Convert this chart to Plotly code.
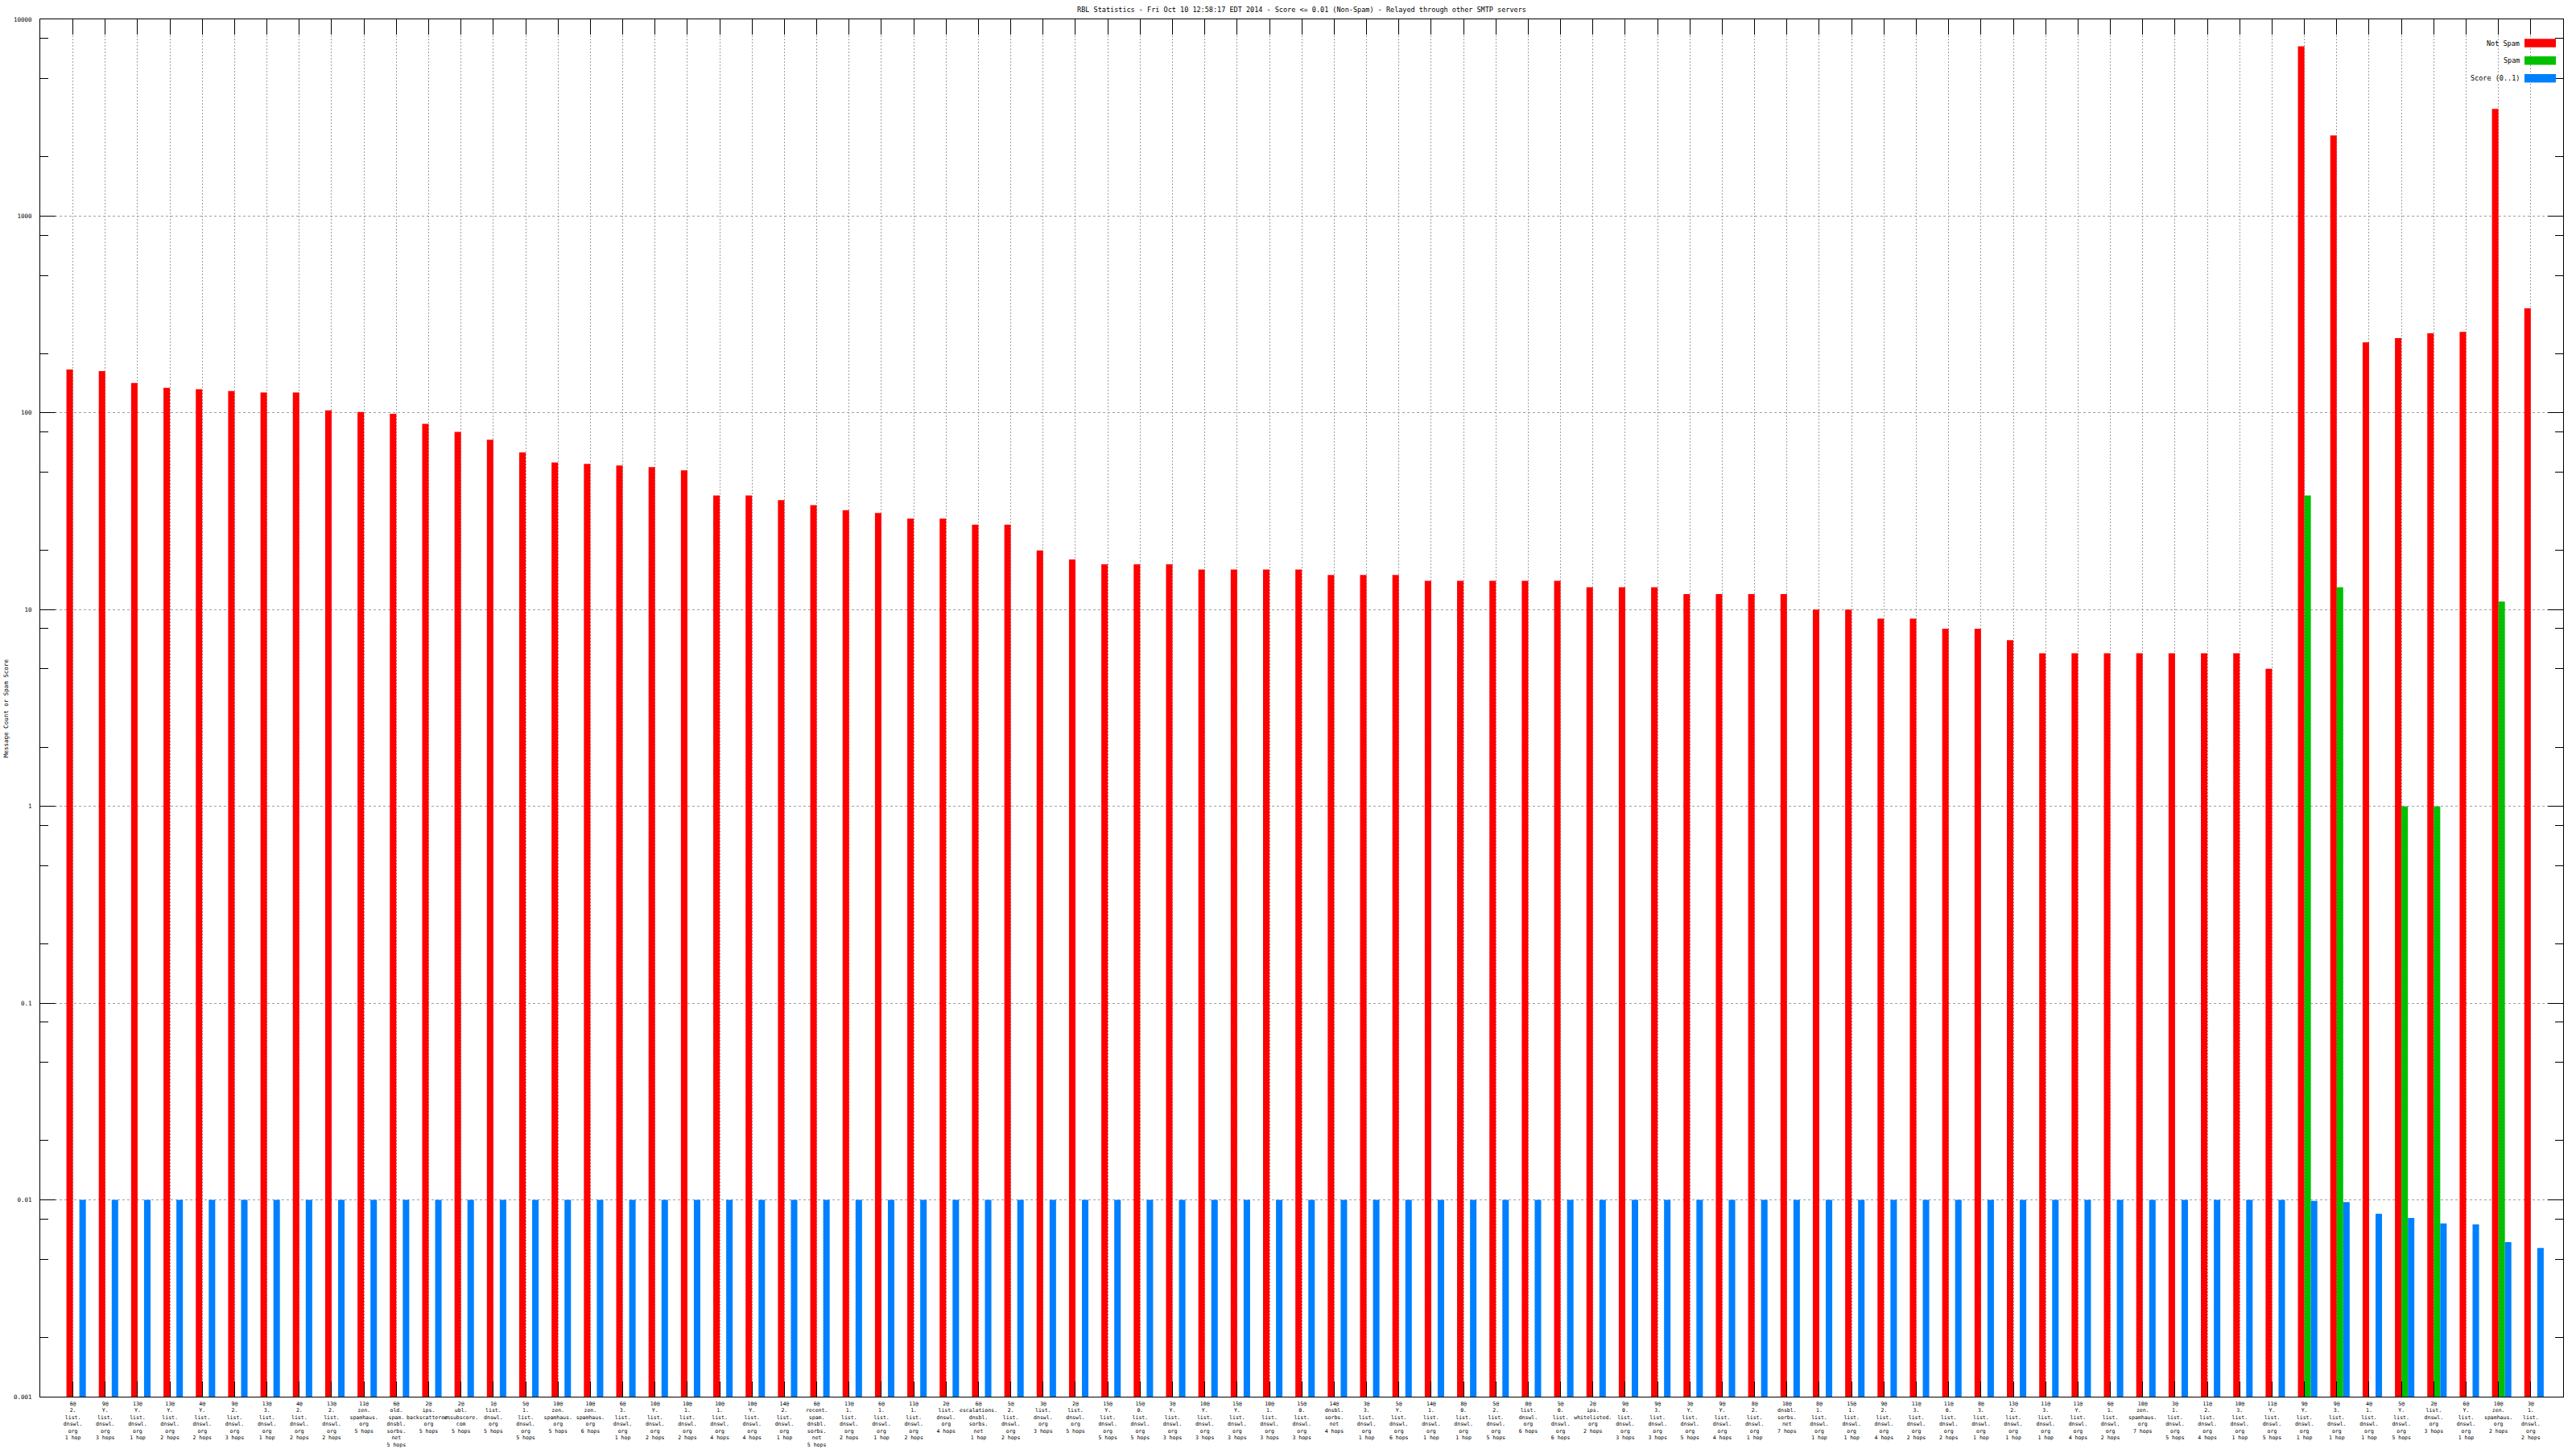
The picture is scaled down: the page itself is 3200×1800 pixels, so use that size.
import plotly.graph_objects as go

W, H = 3200, 1800
ML, MR, MT, MB = 50, 16, 24, 65

labels = [
    "6@ 2. list. dnswl. org 1 hop", "9@ Y. list. dnswl. org 3 hops", "13@ Y. list. dnswl. org 1 hop",
    "13@ Y. list. dnswl. org 2 hops", "4@ Y. list. dnswl. org 2 hops", "9@ 2. list. dnswl. org 3 hops",
    "13@ 3. list. dnswl. org 1 hop", "4@ 2. list. dnswl. org 2 hops", "13@ 2. list. dnswl. org 2 hops",
    "11@ zen. spamhaus. org 5 hops", "6@ old. spam. dnsbl. sorbs. net 5 hops", "2@ ips. backscatterer. org 5 hops",
    "2@ ubl. unsubscore. com 5 hops", "1@ list. dnswl. org 5 hops", "5@ 1. list. dnswl. org 5 hops",
    "10@ zen. spamhaus. org 5 hops", "10@ zen. spamhaus. org 6 hops", "6@ 3. list. dnswl. org 1 hop",
    "10@ Y. list. dnswl. org 2 hops", "10@ 1. list. dnswl. org 2 hops", "10@ 1. list. dnswl. org 4 hops",
    "10@ Y. list. dnswl. org 4 hops", "14@ 2. list. dnswl. org 1 hop", "6@ recent. spam. dnsbl. sorbs. net 5 hops",
    "13@ 1. list. dnswl. org 2 hops", "6@ 1. list. dnswl. org 1 hop", "11@ 1. list. dnswl. org 2 hops",
    "2@ list. dnswl. org 4 hops", "6@ escalations. dnsbl. sorbs. net 1 hop", "5@ 2. list. dnswl. org 2 hops",
    "3@ list. dnswl. org 3 hops", "2@ list. dnswl. org 5 hops", "15@ Y. list. dnswl. org 5 hops",
    "15@ 0. list. dnswl. org 5 hops", "3@ Y. list. dnswl. org 3 hops", "10@ Y. list. dnswl. org 3 hops",
    "15@ Y. list. dnswl. org 3 hops", "10@ 1. list. dnswl. org 3 hops", "15@ 0. list. dnswl. org 3 hops",
    "14@ dnsbl. sorbs. net 4 hops", "3@ 3. list. dnswl. org 1 hop", "5@ Y. list. dnswl. org 6 hops",
    "14@ 1. list. dnswl. org 1 hop", "8@ 0. list. dnswl. org 1 hop", "5@ 2. list. dnswl. org 5 hops",
    "0@ list. dnswl. org 6 hops", "5@ 0. list. dnswl. org 6 hops", "2@ ips. whitelisted. org 2 hops",
    "9@ 0. list. dnswl. org 3 hops", "9@ 3. list. dnswl. org 3 hops", "3@ Y. list. dnswl. org 5 hops",
    "9@ Y. list. dnswl. org 4 hops", "8@ 2. list. dnswl. org 1 hop", "10@ dnsbl. sorbs. net 7 hops",
    "8@ 1. list. dnswl. org 1 hop", "15@ 1. list. dnswl. org 1 hop", "9@ 2. list. dnswl. org 4 hops",
    "11@ 3. list. dnswl. org 2 hops", "11@ 0. list. dnswl. org 2 hops", "8@ 3. list. dnswl. org 1 hop",
    "13@ 2. list. dnswl. org 1 hop", "11@ 3. list. dnswl. org 1 hop", "11@ Y. list. dnswl. org 4 hops",
    "6@ 1. list. dnswl. org 2 hops", "10@ zen. spamhaus. org 7 hops", "3@ 1. list. dnswl. org 5 hops",
    "11@ 2. list. dnswl. org 4 hops", "10@ 3. list. dnswl. org 1 hop", "11@ Y. list. dnswl. org 5 hops",
    "9@ Y. list. dnswl. org 1 hop", "9@ 3. list. dnswl. org 1 hop", "4@ 1. list. dnswl. org 1 hop",
    "5@ Y. list. dnswl. org 5 hops", "2@ list. dnswl. org 3 hops", "6@ Y. list. dnswl. org 1 hop",
    "10@ zen. spamhaus. org 2 hops", "3@ 1. list. dnswl. org 2 hops",
]

not_spam = [166, 163, 142, 134, 132, 129, 127, 127, 103, 101,
            99, 88, 80, 73, 63, 56, 55, 54, 53, 51,
            38, 38, 36, 34, 32, 31, 29, 29, 27, 27,
            20, 18, 17, 17, 17, 16, 16, 16, 16, 15,
            15, 15, 14, 14, 14, 14, 14, 13, 13, 13,
            12, 12, 12, 12, 10, 10, 9, 9, 8, 8,
            7, 6, 6, 6, 6, 6, 6, 6, 5,
            7300, 2570, 228, 240, 254, 258, 3510, 340]

spam = [None] * 69 + [38, 13, None, 1, 1, None, 11, None]

score = [0.01] * 69 + [0.0099, 0.00975, 0.0085, 0.0081, 0.0076, 0.0075, 0.0061, 0.0057]

ytick_vals = [0.001, 0.01, 0.1, 1, 10, 100, 1000, 10000]
ytick_text = ["0.001", "0.01", "0.1", "1", "10", "100", "1000", "10000"]

def wrap(lbl):
    parts = lbl.split(" ")
    out = []
    i = 0
    while i < len(parts):
        if i + 1 < len(parts) and parts[i + 1].startswith("hop"):
            out.append(parts[i] + " " + parts[i + 1]); i += 2
        else:
            out.append(parts[i]); i += 1
    return "<br>".join(out)

xs = list(range(len(labels)))
ticktext = [wrap(l) for l in labels]

minor_vals = []
for e in range(-3, 4):
    for m in (2, 5, 8):
        minor_vals.append(m * 10 ** e)

MONO = "DejaVu Sans Mono"
BW = 0.2

fig = go.Figure()
fig.add_trace(go.Bar(x=xs, y=not_spam, name="Not Spam", width=BW, offset=-BW,
                     marker=dict(color="#ff0000", line=dict(width=0))))
fig.add_trace(go.Bar(x=xs, y=spam, name="Spam", width=BW, offset=0,
                     marker=dict(color="#00c000", line=dict(width=0))))
fig.add_trace(go.Bar(x=xs, y=score, name="Score (0..1)", width=BW, offset=BW,
                     marker=dict(color="#0080ff", line=dict(width=0))))

def px2x(px):
    return (px - ML) / (W - ML - MR)

def py2y(py):
    return (H - MB - py) / (H - MT - MB)

shapes = []
annotations = []
leg = [("Not Spam", "#ff0000", 53.5), ("Spam", "#00c000", 75.3), ("Score (0..1)", "#0080ff", 97.3)]
for name, col, yc in leg:
    shapes.append(dict(type="rect", xref="paper", yref="paper",
                       x0=px2x(3136), x1=px2x(3175), y0=py2y(yc - 5.3), y1=py2y(yc + 5.3),
                       fillcolor=col, line=dict(width=0)))
    annotations.append(dict(xref="paper", yref="paper", x=px2x(3132), y=py2y(yc),
                            xanchor="right", yanchor="middle", showarrow=False, text=name,
                            font=dict(family=MONO, size=8.5, color="#000000")))

annotations.append(dict(xref="paper", yref="paper", x=px2x(7), y=py2y(880),
                        xanchor="center", yanchor="middle", showarrow=False, textangle=-90,
                        text="Message Count or Spam Score",
                        font=dict(family=MONO, size=7.5, color="#000000")))

fig.update_layout(
    width=W, height=H,
    margin=dict(l=ML, r=MR, t=MT, b=MB, pad=0, autoexpand=False),
    paper_bgcolor="#ffffff", plot_bgcolor="#ffffff",
    barmode="overlay",
    showlegend=False,
    title=dict(text="RBL Statistics - Fri Oct 10 12:58:17 EDT 2014 - Score &lt;= 0.01 (Non-Spam) - Relayed through other SMTP servers",
               x=1617 / W, xanchor="center",
               y=1 - 12 / H, yanchor="middle",
               font=dict(family=MONO, size=8.5, color="#000000")),
    shapes=shapes,
    annotations=annotations,
)

fig.update_xaxes(
    range=[-1.01, 77.0], automargin=False,
    tickmode="array", tickvals=xs, ticktext=ticktext,
    tickangle=0,
    tickfont=dict(family=MONO, size=6.5, color="#000000"),
    ticks="inside", ticklen=19, tickcolor="#000000", tickwidth=1,
    showline=True, linecolor="#000000", linewidth=1, mirror="allticks",
    showgrid=True, gridcolor="#a0a0a0", gridwidth=1, griddash="2px,2px",
    zeroline=False,
    ticklabelstandoff=2,
)

fig.update_yaxes(
    type="log", range=[-3, 4], automargin=False,
    tickmode="array", tickvals=ytick_vals, ticktext=ytick_text,
    tickfont=dict(family=MONO, size=7.5, color="#000000"),
    ticks="inside", ticklen=19, tickcolor="#000000", tickwidth=1,
    showline=True, linecolor="#000000", linewidth=1, mirror="allticks",
    showgrid=True, gridcolor="#a0a0a0", gridwidth=1, griddash="3px,3px",
    zeroline=False,
    minor=dict(tickmode="array", tickvals=minor_vals, ticks="inside", ticklen=10,
               tickcolor="#000000", tickwidth=1, showgrid=False),
    ticklabelstandoff=8,
)

fig.write_html("out.html",
               config={"displayModeBar": False},
               post_script="document.body.style.margin='0px';document.body.style.padding='0px';document.body.style.overflow='hidden';")
